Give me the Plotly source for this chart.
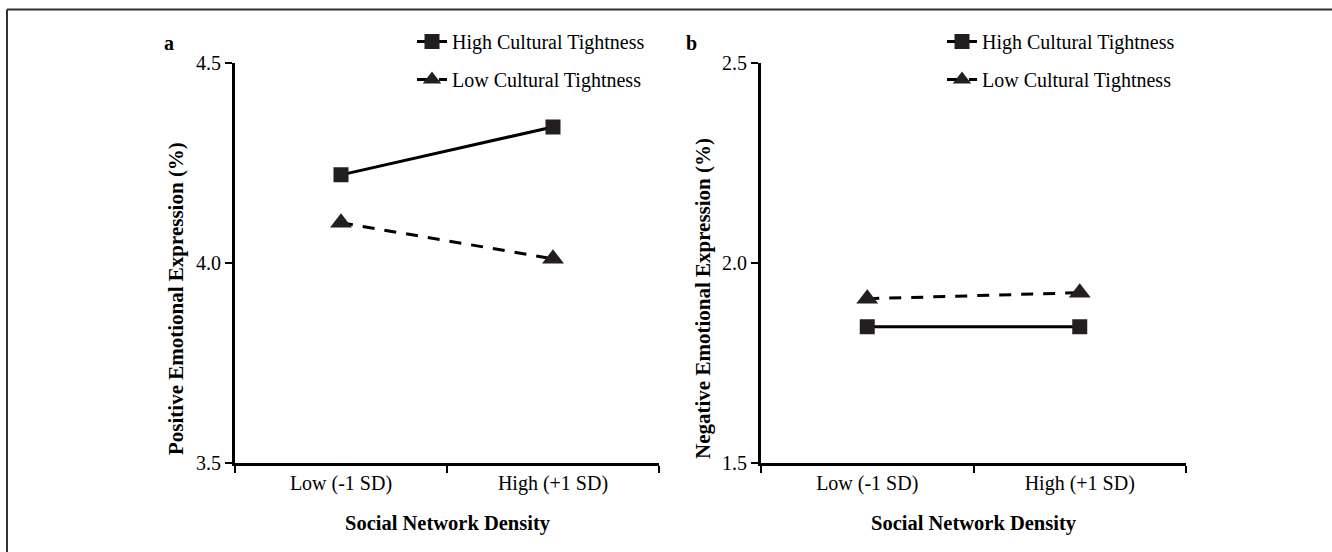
import plotly.graph_objects as go

# ---- data ----
categories = ["Low (-1 SD)", "High (+1 SD)"]
series_names = ["High Cultural Tightness", "Low Cultural Tightness"]
pos_high = [4.22, 4.34]
pos_low = [4.10, 4.01]
neg_high = [1.84, 1.84]
neg_low = [1.91, 1.925]
pos_ticks = [3.5, 4.0, 4.5]
neg_ticks = [1.5, 2.0, 2.5]

W, H = 1332, 552
FONT = "Liberation Serif, Times New Roman, serif"

def px_x(p):
    return p / W

def px_y(p):
    return 1 - p / H

fig = go.Figure()

def add_pair(hi, lo, xa, ya, leg):
    fig.add_trace(go.Scatter(
        x=categories, y=hi, name=series_names[0], xaxis=xa, yaxis=ya,
        mode="lines+markers", legend=leg, legendgroup=leg + "h",
        line=dict(color="black", width=3),
        marker=dict(symbol="square", size=15, color="#231f20"),
    ))
    fig.add_trace(go.Scatter(
        x=categories, y=lo, name=series_names[1], xaxis=xa, yaxis=ya,
        mode="lines+markers", legend=leg, legendgroup=leg + "l",
        line=dict(color="black", width=3, dash="12px,10px"),
        marker=dict(symbol="triangle-up", size=19, color="#231f20"),
    ))

add_pair(pos_high, pos_low, "x", "y", "legend")
add_pair(neg_high, neg_low, "x2", "y2", "legend2")

axis_font = dict(family=FONT, size=20, color="black")

def xaxis(dom, anchor):
    return dict(
        domain=dom, anchor=anchor, type="category",
        categoryorder="array", categoryarray=categories,
        range=[-0.5, 1.5], tickson="boundaries", automargin=False,
        showline=True, linecolor="black", linewidth=3,
        ticks="outside", ticklen=7, tickwidth=2, tickcolor="black",
        showgrid=False, zeroline=False, tickfont=axis_font,
    )

def yaxis(rng, tv, anchor):
    return dict(
        domain=[px_y(462.5), px_y(63)], anchor=anchor, automargin=False,
        range=rng, tickvals=tv, tickformat=".1f",
        showline=True, linecolor="black", linewidth=3,
        ticks="outside", ticklen=7, tickwidth=2, tickcolor="black",
        showgrid=False, zeroline=False, tickfont=axis_font,
    )

legend_common = dict(
    font=dict(family=FONT, size=20, color="black"),
    bgcolor="rgba(0,0,0,0)", tracegroupgap=9,
    xanchor="left", yanchor="top", itemclick=False,
)

fig.update_layout(
    template="none",
    width=W, height=H,
    margin=dict(l=0, r=0, t=0, b=0, autoexpand=False),
    paper_bgcolor="white", plot_bgcolor="white",
    font=dict(family=FONT, size=20, color="black"),
    xaxis=xaxis([px_x(235), px_x(659)], "y"),
    yaxis=yaxis([3.5, 4.5], pos_ticks, "x"),
    xaxis2=xaxis([px_x(761), px_x(1186)], "y2"),
    yaxis2=yaxis([1.5, 2.5], neg_ticks, "x2"),
    legend=dict(x=px_x(412), y=px_y(22), **legend_common),
    legend2=dict(x=px_x(942), y=px_y(22), **legend_common),
    showlegend=True,
)

annos = [
    dict(text="<b>a</b>", x=px_x(169), y=px_y(43), size=20),
    dict(text="<b>b</b>", x=px_x(692), y=px_y(43), size=20),
    dict(text="<b>Positive Emotional Expression (%)</b>", x=px_x(176), y=px_y(299), textangle=-90, size=21),
    dict(text="<b>Negative Emotional Expression (%)</b>", x=px_x(703), y=px_y(299), textangle=-90, size=21),
    dict(text="<b>Social Network Density</b>", x=px_x(448), y=px_y(523), size=20.5),
    dict(text="<b>Social Network Density</b>", x=px_x(974), y=px_y(523), size=20.5),
]
for a in annos:
    sz = a.pop("size")
    a.update(xref="paper", yref="paper", showarrow=False,
             xanchor="center", yanchor="middle",
             font=dict(family=FONT, size=sz, color="black"))
    fig.add_annotation(**a)

# outer frame (top and left edges visible)
fig.add_shape(type="line", xref="paper", yref="paper",
              x0=px_x(7), x1=1, y0=px_y(9.5), y1=px_y(9.5),
              line=dict(color="#333333", width=2))
fig.add_shape(type="line", xref="paper", yref="paper",
              x0=px_x(7), x1=px_x(7), y0=0, y1=px_y(9.5),
              line=dict(color="#333333", width=2))

fig.write_html("out.html", config={"displayModeBar": False},
               post_script="document.body.style.margin='0';document.body.style.overflow='hidden';")
